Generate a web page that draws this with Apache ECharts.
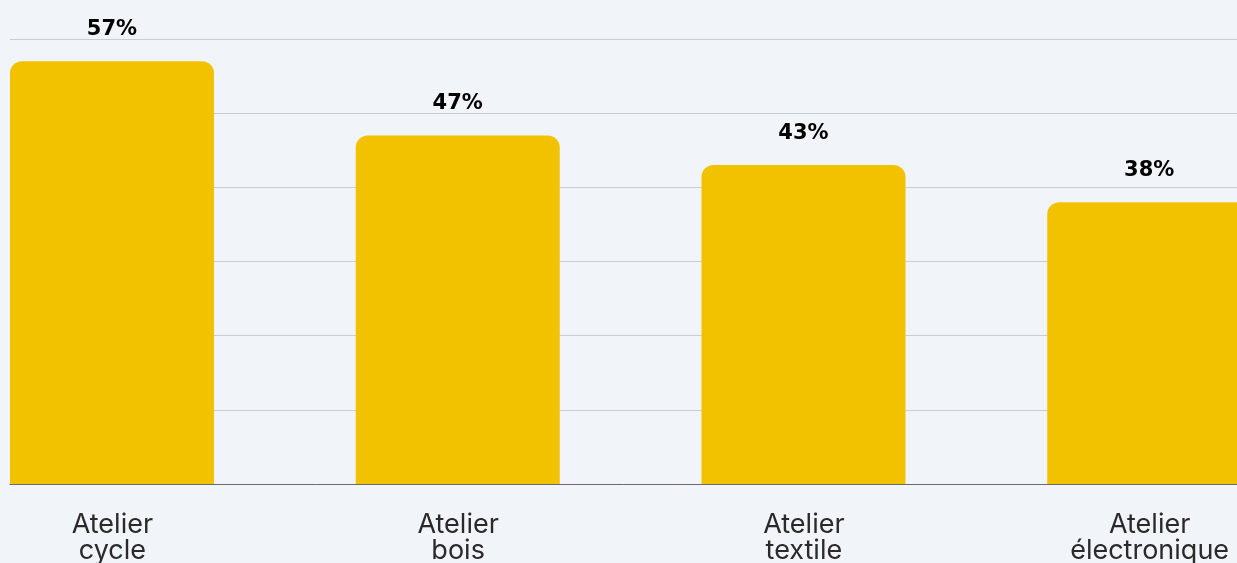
<!DOCTYPE html>
<html>
<head>
<meta charset="utf-8">
<script src="https://cdn.jsdelivr.net/npm/echarts@6/dist/echarts.min.js"></script>
<style>
  html, body { margin: 0; padding: 0; background: #f1f4f8; }
  #chart { width: 1237px; height: 563px; }
</style>
</head>
<body>
<div id="chart"></div>
<script>
var categories = ['Atelier\ncycle', 'Atelier\nbois', 'Atelier\ntextile', 'Atelier\nélectronique'];
var values = [57, 47, 43, 38];
var yTicks = [0, 10, 20, 30, 40, 50, 60];

var myChart = echarts.init(document.getElementById('chart'));
var option = {
    backgroundColor: '#f1f4f8',
    animation: false,
    grid: {
        left: 10,
        right: -156,
        top: 39,
        bottom: 79,
        outerBoundsMode: 'none',
        containLabel: false
    },
    xAxis: [
        {
            type: 'category',
            data: categories,
            axisTick: { show: false },
            axisLine: { lineStyle: { color: '#6b6b6b', width: 1 } },
            axisLabel: {
                margin: 28,
                fontFamily: 'Inter',
                fontSize: 27,
                lineHeight: 26,
                color: '#2a2a2a',
                padding: [0, 141, 0, 0]
            }
        }
    ],
    yAxis: [
        {
            type: 'value',
            min: yTicks[0],
            max: yTicks[yTicks.length - 1],
            interval: 10,
            axisLabel: { show: false },
            axisLine: { show: false },
            axisTick: { show: false },
            splitLine: { lineStyle: { color: '#c9cdd2', width: 1 } }
        }
    ],
    series: [
        {
            name: 'part',
            type: 'bar',
            data: values,
            barWidth: 204,
            barGap: '-30.5%',
            itemStyle: { color: '#f2c200', borderRadius: [12, 12, 0, 0] },
            label: {
                show: true,
                position: 'top',
                distance: 21,
                formatter: '{c}%',
                fontFamily: 'DejaVu Sans',
                fontWeight: 'bold',
                fontSize: 21,
                color: '#000'
            }
        },
        {
            name: 'spacer',
            type: 'bar',
            data: values.map(function () { return 0; }),
            barWidth: 204,
            itemStyle: { color: 'transparent' },
            silent: true
        }
    ]
};
myChart.setOption(option);
</script>
</body>
</html>
